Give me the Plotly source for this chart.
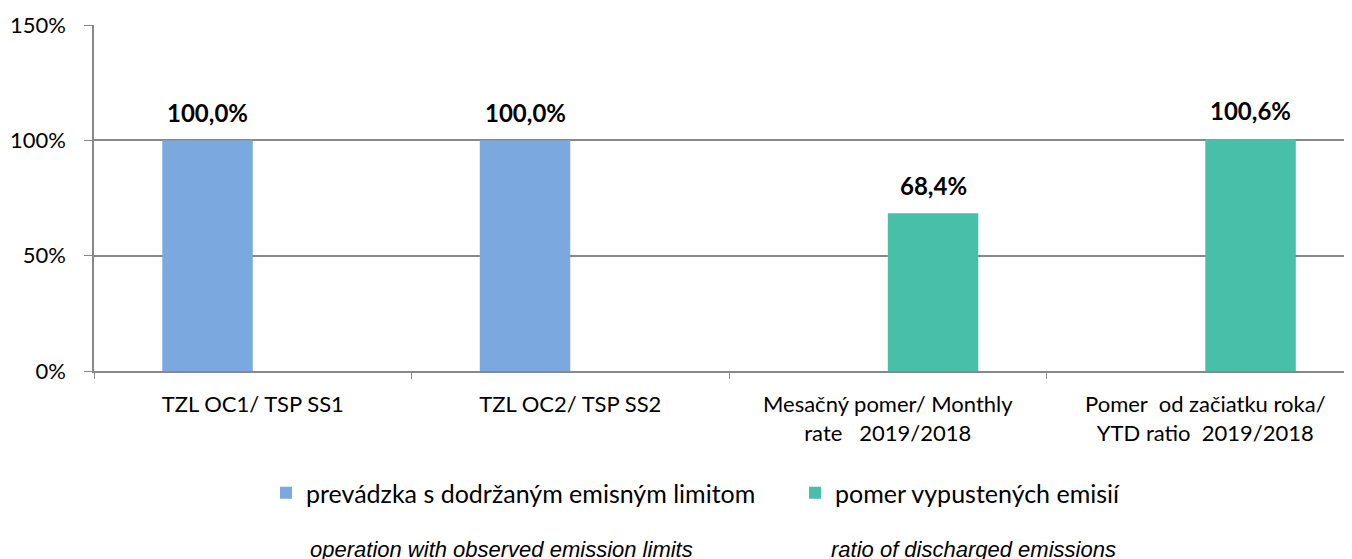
import plotly.graph_objects as go

categories = ["TZL OC1/ TSP SS1", "TZL OC2/ TSP SS2",
              "Mesačný pomer/ Monthly<br>rate   2019/2018",
              "Pomer  od začiatku roka/<br>YTD ratio  2019/2018"]
series1_name = "prevádzka s dodržaným emisným limitom"
series2_name = "pomer vypustených emisií"
series1_values = [1.0, 1.0, None, None]
series2_values = [None, None, 0.684, 1.006]
subtitle1 = "operation with observed emission limits"
subtitle2 = "ratio of discharged emissions"
y_ticks = [0, 0.5, 1.0, 1.5]

BLUE = "#7AA8DF"
GREEN = "#47BFA9"
FONT = "Lato"

# page body has an 8px margin; reference pixel coords are mapped accordingly
W, H = 1344, 551
PL, PT, PB = 94, 25, 371  # plot edges in reference pixels
PW, PH = 1352 - PL, PB - PT


def px(xr):
    return (xr - PL) / PW


def py(yr):
    return (PB - yr) / PH


fig = go.Figure()
fig.add_trace(go.Bar(x=categories, y=series1_values, name=series1_name,
                     marker=dict(color=BLUE, line=dict(width=0))))
fig.add_trace(go.Bar(x=categories, y=series2_values, name=series2_name,
                     marker=dict(color=GREEN, line=dict(width=0))))

BARGAP = 0.43
half = (1 - BARGAP) / 4
for vals, off in ((series1_values, -half), (series2_values, half)):
    for i, v in enumerate(vals):
        if v is None:
            continue
        fig.add_annotation(x=i + off, y=v, yshift=28, showarrow=False,
                           text="<b>" + f"{v*100:.1f}".replace(".", ",") + "%</b>",
                           font=dict(family=FONT, size=24, color="#000000"))

for txt, xr in ((subtitle1, 308), (subtitle2, 829)):
    fig.add_annotation(xref="paper", yref="paper", x=px(xr), y=py(549),
                       xanchor="left", yanchor="middle", showarrow=False,
                       text="<i>" + txt + "</i>",
                       font=dict(family="Liberation Sans", size=22, color="#000000"))

fig.update_layout(
    width=W, height=H,
    margin=dict(l=PL - 8, r=0, t=PT - 8, b=H - (PB - 8), pad=0),
    plot_bgcolor="white", paper_bgcolor="white",
    barmode="group", bargap=BARGAP, bargroupgap=0,
    separators=",.",
    font=dict(family=FONT, size=22, color="#000000"),
    showlegend=True,
    legend=dict(orientation="h", x=px(266), xanchor="left",
                y=py(493), yanchor="middle",
                entrywidth=484, entrywidthmode="pixels",
                font=dict(family=FONT, size=25), traceorder="normal"),
    xaxis=dict(range=[-0.5, 3.462], showline=True, linecolor="#888888", linewidth=1.5,
               ticks="outside", tickson="boundaries", ticklen=6, tickcolor="#888888",
               tickfont=dict(family=FONT, size=22), showgrid=False,
               ticklabelstandoff=13),
    yaxis=dict(range=[0, 1.5], tickvals=y_ticks, tickformat=".0%",
               showline=True, linecolor="#888888", linewidth=1.5,
               ticks="outside", ticklen=8, tickcolor="#888888",
               showgrid=True, gridcolor="#888888", gridwidth=1.5,
               tickfont=dict(family=FONT, size=22), zeroline=False,
               ticklabelstandoff=14),
)

fig.write_html("out.html")
